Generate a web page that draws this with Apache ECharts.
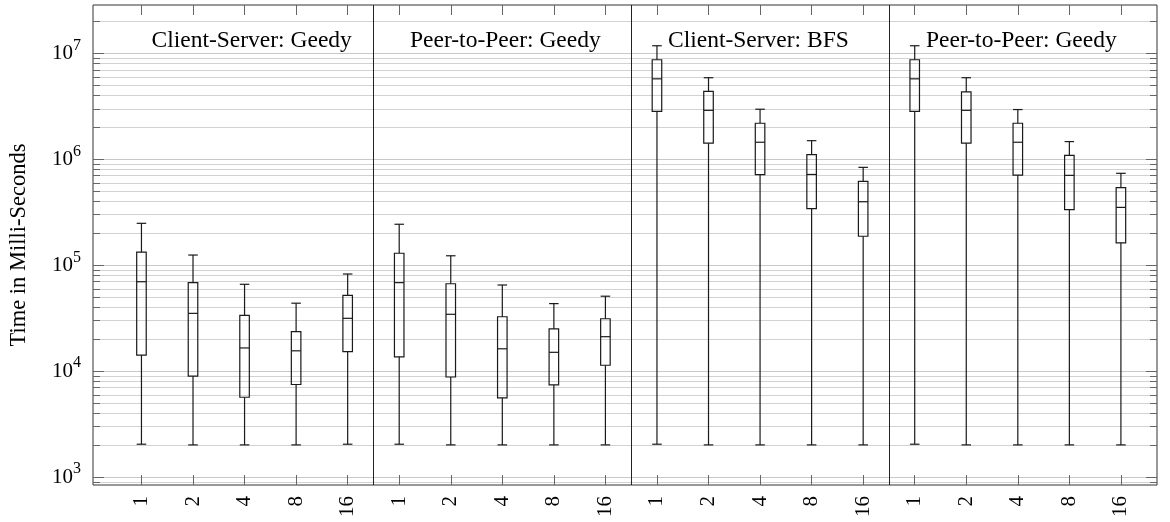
<!DOCTYPE html>
<html>
<head>
<meta charset="utf-8">
<script src="https://cdn.jsdelivr.net/npm/echarts@6/dist/echarts.min.js"></script>
<style>
  html, body { margin: 0; padding: 0; background: #fff; }
  #chart { width: 1170px; height: 522px; }
</style>
</head>
<body>
<div id="chart"></div>
<script>
// ---- data (five-number summaries: [min, q1, median, q3, max]) ----
const categories = ['1', '2', '4', '8', '16'];
const panelTitles = ['Client-Server: Geedy', 'Peer-to-Peer: Geedy', 'Client-Server: BFS', 'Peer-to-Peer: Geedy'];
const csGreedy = [
  [2050, 14200, 70000, 133000, 249000],
  [2020, 9000, 35200, 68600, 125000],
  [2020, 5690, 16600, 33700, 66200],
  [2020, 7500, 15600, 23700, 43900],
  [2050, 15300, 31600, 52100, 82800]
];
const p2pGreedy = [
  [2050, 13700, 68600, 130000, 244000],
  [2020, 8830, 34500, 67000, 123000],
  [2020, 5600, 16300, 32700, 65200],
  [2020, 7430, 15100, 25100, 43500],
  [2020, 11400, 21200, 31300, 51100]
];
const csBfs = [
  [2050, 2840000, 5750000, 8700000, 11800000],
  [2020, 1420000, 2900000, 4370000, 5890000],
  [2020, 716000, 1450000, 2190000, 2970000],
  [2020, 342000, 720000, 1110000, 1500000],
  [2020, 188000, 398000, 620000, 840000]
];
const p2pGreedy2 = [
  [2050, 2840000, 5750000, 8700000, 11800000],
  [2020, 1420000, 2900000, 4330000, 5890000],
  [2020, 710000, 1450000, 2190000, 2950000],
  [2020, 335000, 706000, 1090000, 1470000],
  [2020, 163000, 352000, 540000, 738000]
];
const panels = [csGreedy, p2pGreedy, csBfs, p2pGreedy2];
const yMajorTicks = [1e3, 1e4, 1e5, 1e6, 1e7];
const yMin = 845, yMax = 2.86e7;

// ---- build ----
const rows = [];
const xPositions = [];
panels.forEach((p, pi) => {
  p.forEach((v, ci) => {
    const x = pi * categories.length + ci + 1;
    xPositions.push(x);
    rows.push([x].concat(v));
  });
});
const separators = [];
for (let i = 1; i < panels.length; i++) separators.push({ xAxis: i * categories.length + 0.5 });

const yMinorTicks = [];
for (let e = 2; e <= 7; e++) {
  for (let m = 1; m <= 9; m++) {
    const v = m * Math.pow(10, e);
    if (m === 1 || v < yMin || v > yMax) continue;
    yMinorTicks.push(v);
  }
}

const FONT = 'Liberation Serif';
const tickColor = '#666';
const gridMajor = '#c8c8c8';
const gridMinor = '#d2d2d2';

function yAxisBase(extra) {
  return Object.assign({
    type: 'log', logBase: 10, min: yMin, max: yMax,
    axisLine: { show: false },
    axisLabel: { show: false },
    splitLine: { show: false },
    minorTick: { show: false }
  }, extra);
}

const chart = echarts.init(document.getElementById('chart'), null, { renderer: 'canvas' });

const option = {
  animation: false,
  backgroundColor: '#fff',
  grid: {
    left: 91.5, right: 13, top: 5, bottom: 37,
    show: true, borderColor: '#333', borderWidth: 1, backgroundColor: 'transparent'
  },
  xAxis: [
    {
      type: 'value', min: 0.06, max: 20.7, position: 'bottom',
      axisLine: { show: false },
      splitLine: { show: false },
      axisTick: { show: true, inside: true, length: 10, customValues: xPositions, lineStyle: { color: tickColor, width: 1 } },
      axisLabel: {
        show: true, customValues: xPositions, rotate: 90, margin: 11,
        fontFamily: FONT, fontSize: 21, color: '#000',
        formatter: v => categories[(Math.round(v) - 1) % categories.length]
      }
    },
    {
      type: 'value', min: 0.06, max: 20.7, position: 'top',
      axisLine: { show: false },
      splitLine: { show: false },
      axisTick: { show: true, inside: true, length: 10, customValues: xPositions, lineStyle: { color: tickColor, width: 1 } },
      axisLabel: { show: false }
    }
  ],
  yAxis: [
    yAxisBase({
      position: 'left',
      name: 'Time in Milli-Seconds', nameLocation: 'middle', nameGap: 62,
      nameTextStyle: { fontFamily: FONT, fontSize: 22.5, color: '#000' },
      axisTick: { show: true, inside: true, length: 11, customValues: yMajorTicks, lineStyle: { color: tickColor } },
      splitLine: { show: true, lineStyle: { color: gridMajor, width: 1 } },
      axisLabel: {
        show: true, customValues: yMajorTicks, margin: 12,
        formatter: v => '{b|10}{s|' + Math.round(Math.log10(v)) + '}',
        rich: {
          b: { fontFamily: FONT, fontSize: 21, color: '#000', verticalAlign: 'bottom', lineHeight: 22 },
          s: { fontFamily: FONT, fontSize: 16, color: '#000', verticalAlign: 'bottom', lineHeight: 16, padding: [0, 0, 11, 0] }
        }
      }
    }),
    yAxisBase({
      position: 'left',
      axisTick: { show: true, inside: true, length: 7, customValues: yMinorTicks, lineStyle: { color: tickColor } },
      splitLine: { show: true, lineStyle: { color: gridMinor, width: 1 } }
    }),
    yAxisBase({
      position: 'right',
      axisTick: { show: true, inside: true, length: 11, customValues: yMajorTicks, lineStyle: { color: tickColor } }
    }),
    yAxisBase({
      position: 'right',
      axisTick: { show: true, inside: true, length: 7, customValues: yMinorTicks, lineStyle: { color: tickColor } }
    })
  ],
  graphic: panelTitles.map((t, i) => ({
    type: 'text',
    left: [151.5, 410, 668, 926][i],
    top: 29,
    style: { text: t, fontFamily: FONT, fontSize: 23.5, fill: '#000' },
    z: 100
  })),
  series: [
    {
      type: 'custom',
      xAxisIndex: 0, yAxisIndex: 0,
      data: rows,
      encode: { x: 0, y: [1, 2, 3, 4, 5] },
      clip: false,
      renderItem: function (params, api) {
        const x = api.value(0);
        const pMin = api.coord([x, api.value(1)]);
        const pQ1 = api.coord([x, api.value(2)]);
        const pMed = api.coord([x, api.value(3)]);
        const pQ3 = api.coord([x, api.value(4)]);
        const pMax = api.coord([x, api.value(5)]);
        const w = api.size([1, 1], [x, 1000])[0] * 0.185;
        const cx = pMin[0];
        const st = { stroke: '#1a1a1a', lineWidth: 1.2, fill: null };
        return {
          type: 'group',
          children: [
            { type: 'line', shape: { x1: cx, y1: pMin[1], x2: cx, y2: pQ1[1] }, style: st },
            { type: 'line', shape: { x1: cx, y1: pQ3[1], x2: cx, y2: pMax[1] }, style: st },
            { type: 'line', shape: { x1: cx - w / 2, y1: pMin[1], x2: cx + w / 2, y2: pMin[1] }, style: st },
            { type: 'line', shape: { x1: cx - w / 2, y1: pMax[1], x2: cx + w / 2, y2: pMax[1] }, style: st },
            { type: 'rect', shape: { x: cx - w / 2, y: pQ3[1], width: w, height: pQ1[1] - pQ3[1] }, style: st },
            { type: 'line', shape: { x1: cx - w / 2, y1: pMed[1], x2: cx + w / 2, y2: pMed[1] }, style: st }
          ]
        };
      },
      markLine: {
        silent: true, symbol: 'none', label: { show: false },
        lineStyle: { color: '#222', width: 1, type: 'solid' },
        data: separators
      },
      z: 10
    }
  ]
};
chart.setOption(option);
</script>
</body>
</html>
